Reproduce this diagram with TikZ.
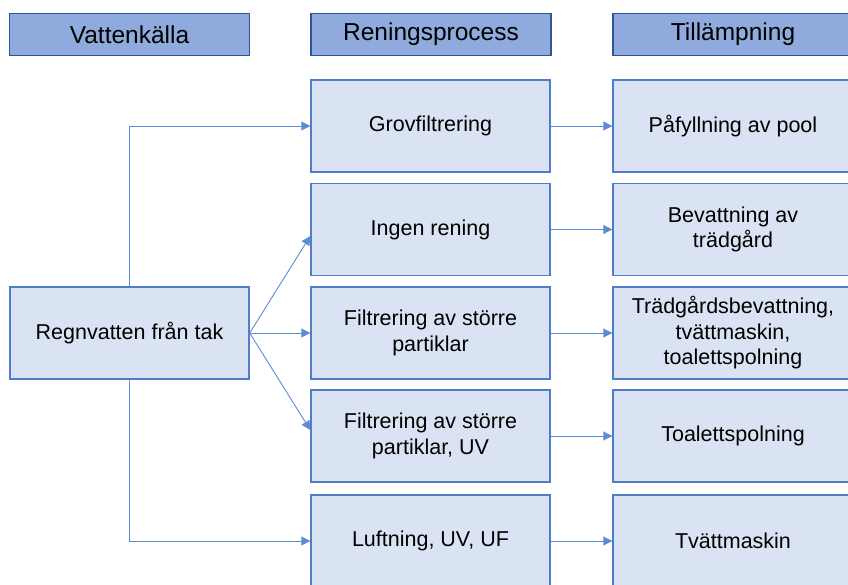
\documentclass[tikz,border=0pt]{standalone}
\usepackage{fontspec}
\setmainfont{Liberation Sans}
\usepackage{tikz}
\usetikzlibrary{arrows.meta, positioning, calc}
\definecolor{headfill}{RGB}{143, 170, 220}
\definecolor{headline}{RGB}{47, 85, 151}
\definecolor{boxfill}{RGB}{218, 227, 243}
\definecolor{boxline}{RGB}{80, 125, 200}
\definecolor{flowline}{RGB}{95, 138, 212}

\begin{document}
\begin{tikzpicture}[x=1pt, y=-1pt,
    headbox/.style={draw=headline, line width=1.4pt, fill=headfill, minimum width=240pt, minimum height=42pt, inner sep=0pt, font=\fontsize{24.5}{28}\selectfont},
    procbox/.style={draw=boxline, line width=1.4pt, fill=boxfill, minimum width=239pt, minimum height=92pt, inner sep=0pt, align=center, font=\fontsize{21.5}{25.5}\selectfont},
    flow/.style={draw=flowline, line width=0.9pt, -{Triangle[length=9pt, width=9pt]}}]
        \useasboundingbox (0,0) rectangle (848,585);
        % Headers
        \node[headbox] (hsource) at (129.5,34.5) {Vattenkälla};
        \node[headbox] (hprocess) at (431,34.5) {Reningsprocess};
        \node[headbox] (huse) at (733,34.5) {Tillämpning};

        % Source
        \node[procbox] (rain) at (129.5,333) {Regnvatten från tak};

        % Treatment
        \node[procbox] (coarse) at (430.5,126) {Grovfiltrering};
        \node[procbox] (none) at (430.5,229.5) {Ingen rening};
        \node[procbox] (filter) at (430.5,333) {Filtrering av större\\partiklar};
        \node[procbox] (filteruv) at (430.5,436) {Filtrering av större\\partiklar, UV};
        \node[procbox] (aerate) at (430.5,541) {Luftning, UV, UF};

        % Use
        \node[procbox, minimum width=240pt] (pool) at (733,126) {Påfyllning av pool};
        \node[procbox, minimum width=240pt] (garden) at (733,229.5) {Bevattning av\\trädgård};
        \node[procbox, minimum width=240pt] (multi) at (733,333) {Trädgårdsbevattning,\\tvättmaskin,\\toalettspolning};
        \node[procbox, minimum width=240pt] (toilet) at (733,436) {Toalettspolning};
        \node[procbox, minimum width=240pt] (washer) at (733,541) {Tvättmaskin};

        % Arrows
        \draw[flow] (rain.north) |- (coarse.west);
        \draw[flow] (rain.east) -- ([yshift=-6.5pt]none.west);
        \draw[flow] (rain.east) -- (filter.west);
        \draw[flow] (rain.east) -- ([yshift=6pt]filteruv.west);
        \draw[flow] (rain.south) |- (aerate.west);
        \draw[flow] (coarse) -- (pool);
        \draw[flow] (none) -- (garden);
        \draw[flow] (filter) -- (multi);
        \draw[flow] (filteruv) -- (toilet);
        \draw[flow] (aerate) -- (washer);
    \end{tikzpicture}
\end{document}
